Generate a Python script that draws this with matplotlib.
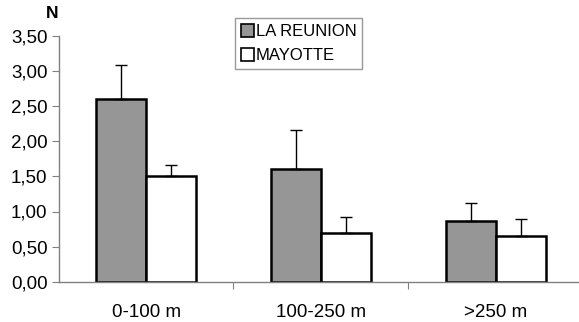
import numpy as np
import matplotlib
matplotlib.use("Agg")
import matplotlib.pyplot as plt
from matplotlib.patches import Patch

plt.rcParams["font.family"] = ["Liberation Sans", "DejaVu Sans"]

# ── Data ─────────────────────────────────────────────────────────────
categories   = ["0-100 m", "100-250 m", ">250 m"]
reunion      = [2.60, 1.60, 0.87]
reunion_err  = [0.48, 0.56, 0.25]
mayotte      = [1.50, 0.70, 0.65]
mayotte_err  = [0.16, 0.22, 0.25]
yticks       = [0.0, 0.5, 1.0, 1.5, 2.0, 2.5, 3.0, 3.5]

fig = plt.figure(figsize=(5.79, 3.22), dpi=100)
ax = fig.add_axes([58.7 / 579, 1 - 281.7 / 322, (583 - 58.7) / 579, (281.7 - 36) / 322])

x = np.arange(len(categories))
w = 0.286
err_kw = dict(ecolor="black", elinewidth=1.0, capsize=4, capthick=1.0)

ax.bar(x - w / 2, reunion, w, color="#969696", edgecolor="black", linewidth=1.8,
       yerr=[np.zeros(3), reunion_err], error_kw=err_kw, zorder=2)
ax.bar(x + w / 2, mayotte, w, color="white", edgecolor="black", linewidth=1.8,
       yerr=[np.zeros(3), mayotte_err], error_kw=err_kw, zorder=2)

ax.set_xlim(-0.5, 2.5)
ax.set_ylim(0, 3.5)
ax.set_yticks(yticks)
ax.set_yticklabels([f"{v:.2f}".replace(".", ",") for v in yticks], fontsize=13.5)

# category labels between boundary ticks
ax.set_xticks([0.5, 1.5])
ax.set_xticklabels([])
ax.set_xticks(x, minor=True)
ax.set_xticklabels(categories, minor=True, fontsize=13.5)
ax.tick_params(axis="x", which="minor", length=0, pad=16)
ax.tick_params(axis="x", which="major", length=5, color="#808080", direction="out")
ax.tick_params(axis="y", length=5, color="#808080", direction="out", pad=3)

for side in ["top", "right"]:
    ax.spines[side].set_visible(False)
for side in ["left", "bottom"]:
    ax.spines[side].set_color("#808080")
    ax.spines[side].set_linewidth(1.0)

fig.text(52 / 579, 1 - 14 / 322, "N", fontsize=12.5, fontweight="bold", ha="center", va="center")

handles = [Patch(facecolor="#969696", edgecolor="black", linewidth=1.2, label="LA REUNION"),
           Patch(facecolor="white", edgecolor="black", linewidth=1.2, label="MAYOTTE")]
leg = fig.legend(handles=handles, loc="upper left", bbox_to_anchor=(235 / 579, 1 - 18 / 322),
                 fontsize=12, frameon=True, fancybox=False, handlelength=0.8, handleheight=0.8,
                 handletextpad=0.1, borderpad=0.35, labelspacing=0.55, borderaxespad=0)
leg.get_frame().set_edgecolor("#808080")
leg.get_frame().set_linewidth(1.0)

plt.savefig("out.png", dpi=100)
